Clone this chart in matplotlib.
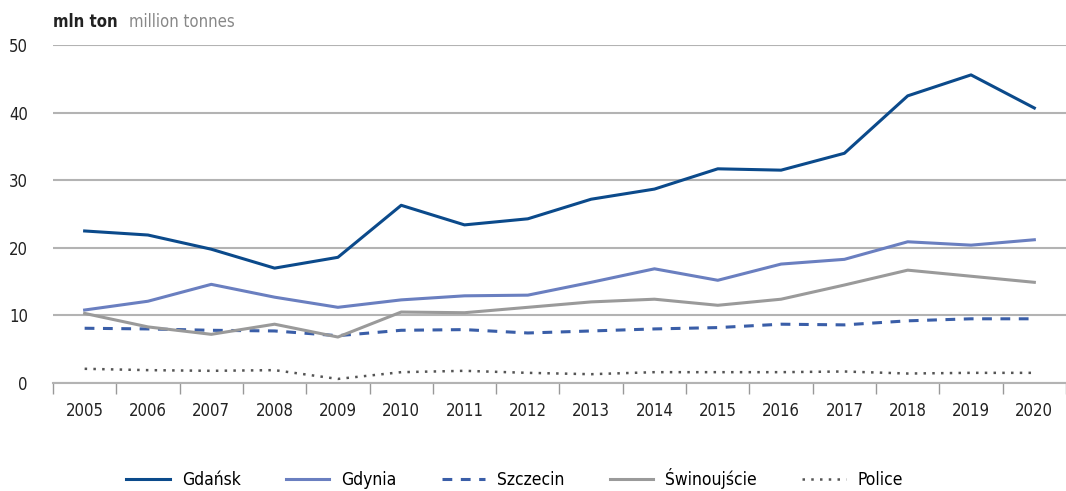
import numpy as np
import matplotlib
matplotlib.use("Agg")
from matplotlib import pyplot as plt

plt.rcParams['font.family'] = ['DejaVu Sans']
plt.rcParams['font.stretch'] = 'condensed'

years = [str(y) for y in range(2005, 2021)]
gdansk = [22.5, 21.9, 19.8, 17.0, 18.6, 26.3, 23.4, 24.3, 27.2, 28.7, 31.7, 31.5, 34.0, 42.5, 45.6, 40.7]
gdynia = [10.8, 12.1, 14.6, 12.7, 11.2, 12.3, 12.9, 13.0, 14.9, 16.9, 15.2, 17.6, 18.3, 20.9, 20.4, 21.2]
szczecin = [8.1, 8.0, 7.8, 7.7, 7.0, 7.8, 7.9, 7.4, 7.7, 8.0, 8.2, 8.7, 8.6, 9.2, 9.5, 9.5]
swinoujscie = [10.3, 8.3, 7.2, 8.7, 6.8, 10.5, 10.4, 11.2, 12.0, 12.4, 11.5, 12.4, 14.5, 16.7, 15.8, 14.9]
police = [2.1, 1.9, 1.8, 1.9, 0.6, 1.6, 1.8, 1.5, 1.3, 1.6, 1.6, 1.6, 1.7, 1.4, 1.5, 1.5]

fig = plt.figure(figsize=(10.66, 4.91), dpi=100)
ax = fig.add_axes([0.0497, 0.22, 0.9503, 0.688])

x = np.arange(len(years))
ax.plot(x, gdansk, color='#0b4a8b', lw=2.2, label='Gdańsk')
ax.plot(x, gdynia, color='#6a7fc0', lw=2.2, label='Gdynia')
ax.plot(x, szczecin, color='#3a5ea8', lw=2.2, ls=(0, (3.2, 2.8)), label='Szczecin')
ax.plot(x, swinoujscie, color='#9a9a9a', lw=2.2, label='Świnoujście')
ax.plot(x, police, color='#555555', lw=1.8, ls=(0, (1, 2.5)), label='Police')

ax.set_xlim(-0.5, 15.38)
ax.set_ylim(0, 50)
ax.set_yticks([0, 10, 20, 30, 40, 50])
ax.yaxis.grid(True, color='#b3b3b3', lw=1.5)
ax.set_axisbelow(True)
ax.tick_params(axis='y', length=0, pad=18, labelsize=12, colors='#222222')
ax.set_xticks(x)
ax.set_xticklabels(years)
ax.set_xticks(np.arange(-0.5, 15.6, 1), minor=True)
ax.tick_params(axis='x', which='major', length=0, pad=14, labelsize=12, colors='#222222')
ax.tick_params(axis='x', which='minor', length=8, width=1, color='#999999')
for s in ['top', 'right', 'left']:
    ax.spines[s].set_visible(False)
ax.spines['bottom'].set_color('#b3b3b3')
ax.spines['bottom'].set_linewidth(1.5)

t1 = fig.text(0.0497, 0.955, 'mln ton', fontsize=12, fontweight='bold', color='#222222', va='center')
ax.annotate('million tonnes', xy=(1, 0.5), xycoords=t1, xytext=(8, 0), textcoords='offset points',
            fontsize=12, color='#888888', va='center')

fig.legend(loc='lower center', bbox_to_anchor=(0.483, -0.028), ncol=5, frameon=False,
           fontsize=12.5, handlelength=2.5, columnspacing=2.6, handletextpad=0.7)

fig.savefig('out.png', dpi=100)
